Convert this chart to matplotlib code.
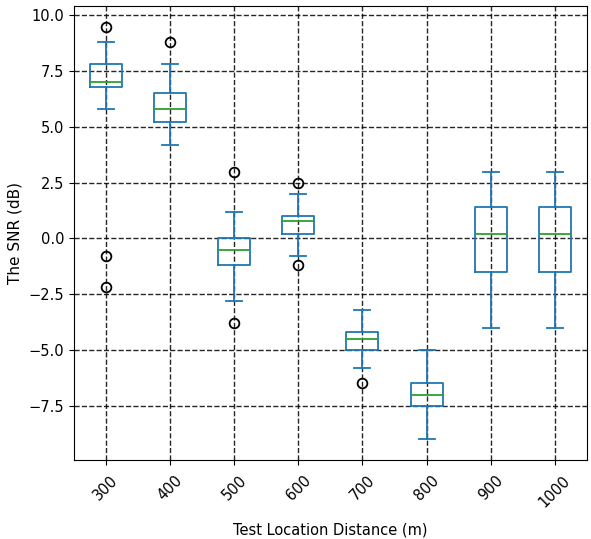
import matplotlib
matplotlib.use("Agg")
import matplotlib.pyplot as plt

# distances (m) and the box statistics (dB)
distances = ["300", "400", "500", "600", "700", "800", "900", "1000"]
medians = [7.0, 5.8, -0.5, 0.8, -4.5, -7.0, 0.2, 0.2]
q1 = [6.8, 5.2, -1.2, 0.2, -5.0, -7.5, -1.5, -1.5]
q3 = [7.8, 6.5, 0.0, 1.0, -4.2, -6.5, 1.4, 1.4]
whisker_lo = [5.8, 4.2, -2.8, -0.8, -5.8, -9.0, -4.0, -4.0]
whisker_hi = [8.8, 7.8, 1.2, 2.0, -3.2, -5.0, 3.0, 3.0]
outliers = [[9.5, -0.8, -2.2], [8.8], [3.0, -3.8], [2.5, -1.2], [-6.5], [], [], []]

stats = []
for i, d in enumerate(distances):
    stats.append(dict(label=d, med=medians[i], q1=q1[i], q3=q3[i],
                      whislo=whisker_lo[i], whishi=whisker_hi[i],
                      fliers=outliers[i]))

fig = plt.figure(figsize=(5.91, 5.39), dpi=100)
ax = fig.add_axes([0.125, 0.147, 0.868, 0.842])

ax.bxp(stats, widths=0.5, showfliers=True,
       boxprops=dict(color="#1f77b4", linewidth=1.3),
       whiskerprops=dict(color="#1f77b4", linewidth=1.3),
       capprops=dict(color="#1f77b4", linewidth=1.3),
       medianprops=dict(color="#2ca02c", linewidth=1.3),
       flierprops=dict(marker="o", markerfacecolor="none",
                       markeredgecolor="black", markersize=7,
                       markeredgewidth=1.3))

ax.grid(True, color="black", linestyle="--", linewidth=1.0, alpha=0.85)
ax.tick_params(axis="x", labelrotation=45, labelsize=10.5, pad=6)
ax.tick_params(axis="y", labelsize=10.5)
ax.set_xlabel("Test Location Distance (m)", fontsize=10.5, labelpad=9)
ax.set_ylabel("The SNR (dB)", fontsize=11)

fig.savefig("out.png", dpi=100)
